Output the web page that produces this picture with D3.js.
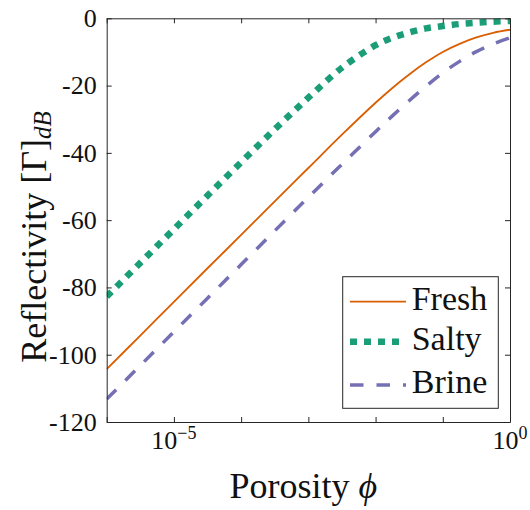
<!DOCTYPE html>
<html>
<head>
<meta charset="utf-8">
<script src="https://cdn.jsdelivr.net/npm/d3@7"></script>
</head>
<body style="margin:0;background:#fff">
<svg id="chart" width="530" height="510"></svg>
<script>
// porosity samples (log spaced) and reflectivity in dB
var porosity = [1e-6, 3.16e-6, 1e-5, 3.16e-5, 1e-4, 3.16e-4, 1e-3, 3.16e-3, 1e-2,
                1.78e-2, 3.16e-2, 5.62e-2, 0.1, 0.178, 0.316, 0.562, 1];
var fresh = [-104.3, -94.3, -84.3, -74.3, -64.4, -54.4, -44.5, -34.6, -25.1,
             -20.7, -16.7, -13.1, -10.0, -7.6, -5.7, -4.3, -3.4];
var salty = [-82.7, -72.7, -62.7, -52.7, -42.8, -33.0, -23.6, -14.7, -8.0,
             -5.8, -4.2, -3.0, -2.3, -1.7, -1.3, -1.0, -0.8];
var brine = [-113.2, -103.2, -93.2, -83.2, -73.2, -63.2, -53.2, -43.4, -33.7,
             -29.0, -24.5, -20.2, -16.2, -12.8, -9.9, -7.6, -5.8];

var yTicks = [0, -20, -40, -60, -80, -100, -120];
var xTicks = [1e-6, 1e-5, 1e-4, 1e-3, 1e-2, 1e-1, 1];
var xLabelExp = [-5, 0];

var svg = d3.select("#chart"),
    margin = {top: 18.3, right: 20, bottom: 88, left: 106.7},
    width = +svg.attr("width") - margin.left - margin.right,
    height = +svg.attr("height") - margin.top - margin.bottom;

var x = d3.scaleLog().domain([1e-6, 1]).range([0, width]),
    y = d3.scaleLinear().domain([-120, 0]).range([height, 0]);

var g = svg.append("g")
    .attr("transform", "translate(" + margin.left + "," + margin.top + ")");

g.append("clipPath").attr("id", "clip")
  .append("rect").attr("width", width).attr("height", height);

var series = [
  {name: "Fresh", values: fresh, color: "#D95F02", w: 1.8, dash: null},
  {name: "Salty", values: salty, color: "#1B9E77", w: 6.5, dash: "7,7"},
  {name: "Brine", values: brine, color: "#7570B3", w: 3.5, dash: "13.5,13"}
];

var line = d3.line()
    .x(function(d) { return x(d.p); })
    .y(function(d) { return y(d.v); })
    .curve(d3.curveCatmullRom.alpha(0.5));

var plot = g.append("g").attr("clip-path", "url(#clip)");
series.forEach(function(s) {
  var pts = porosity.map(function(p, i) { return {p: p, v: s.values[i]}; });
  plot.append("path")
      .datum(pts)
      .attr("fill", "none")
      .attr("stroke", s.color)
      .attr("stroke-width", s.w)
      .attr("stroke-dasharray", s.dash)
      .attr("d", line);
});

// axes, ticks inward on all four sides
function style(ax) {
  ax.attr("color", "#262626");
  ax.select(".domain").attr("stroke-width", 1);
  ax.selectAll(".tick line").attr("stroke-width", 1);
}

g.append("g")
    .attr("transform", "translate(0," + height + ")")
    .call(d3.axisBottom(x).tickValues(xTicks).tickSize(-5).tickSizeOuter(0).tickFormat(""))
    .call(style);
g.append("g")
    .call(d3.axisTop(x).tickValues(xTicks).tickSize(-5).tickSizeOuter(0).tickFormat(""))
    .call(style);
g.append("g")
    .attr("transform", "translate(" + width + ",0)")
    .call(d3.axisRight(y).tickValues(yTicks).tickSize(-5).tickSizeOuter(0).tickFormat(""))
    .call(style);
g.append("g")
    .call(d3.axisLeft(y).tickValues(yTicks).tickSize(-5).tickSizeOuter(0).tickPadding(10)
      .tickFormat(function(d) { return String(d); }))
    .call(style)
    .selectAll("text")
      .style("font-size", "26px")
      .attr("fill", "#111");

// x tick labels 10^n
xLabelExp.forEach(function(e) {
  var t = g.append("text")
      .attr("x", x(Math.pow(10, e)))
      .attr("y", height + 27)
      .attr("text-anchor", "middle")
      .style("font-size", "26px");
  t.append("tspan").text("10");
  t.append("tspan").style("font-size", "18px").attr("dy", -10)
      .text(e < 0 ? "\u2212" + (-e) : String(e));
});

// axis labels
var xl = g.append("text")
    .attr("x", width / 2 - 5)
    .attr("y", height + 76)
    .attr("text-anchor", "middle")
    .style("font-size", "36px");
xl.append("tspan").text("Porosity ");
xl.append("tspan").style("font-style", "italic").text("\u03D5");

var yl = svg.append("text")
    .attr("transform", "translate(46,237) rotate(-90)")
    .attr("text-anchor", "middle")
    .style("font-size", "36px");
yl.append("tspan").text("Reflectivity [\u0393]");
yl.append("tspan").style("font-style", "italic").style("font-size", "25px").attr("dy", 5).text("dB");

// legend
var lg = svg.append("g").attr("transform", "translate(342.7,276.7)");
lg.append("rect")
    .attr("width", 155.6).attr("height", 131.6)
    .attr("fill", "#fff").attr("stroke", "#262626").attr("stroke-width", 1);
var rows = [25, 65, 108.3];
series.forEach(function(s, i) {
  lg.append("line")
      .attr("x1", 7.3).attr("x2", 63.3)
      .attr("y1", rows[i]).attr("y2", rows[i])
      .attr("stroke", s.color)
      .attr("stroke-width", s.w)
      .attr("stroke-dasharray", s.dash);
  lg.append("text")
      .attr("x", 69)
      .attr("y", rows[i] + 8)
      .style("font-size", "34px")
      .text(s.name);
});

svg.selectAll("text")
    .style("font-family", "'Liberation Serif'")
    .style("fill", "#111");
</script>
</body>
</html>
